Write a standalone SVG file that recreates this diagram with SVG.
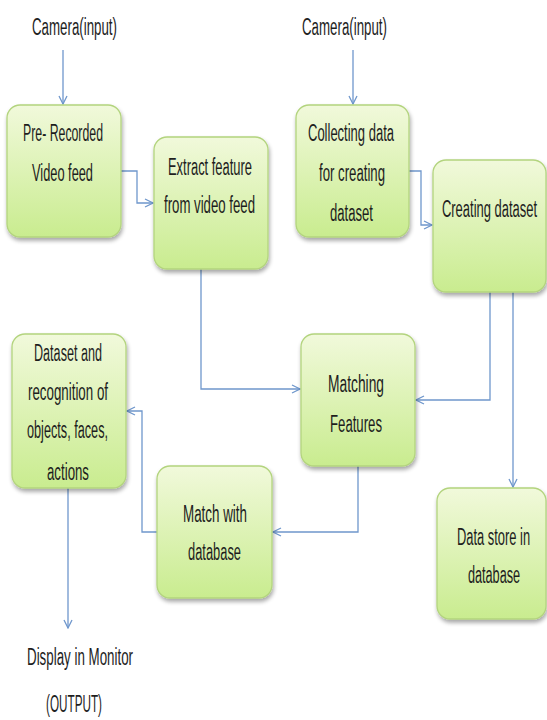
<svg xmlns="http://www.w3.org/2000/svg" width="547" height="720" viewBox="0 0 547 720">
<defs>
<linearGradient id="g" x1="0" y1="0" x2="0" y2="1">
<stop offset="0" stop-color="#f1f9db"/>
<stop offset="1" stop-color="#c9ec8f"/>
</linearGradient>
<filter id="sh" x="-10%" y="-10%" width="130%" height="130%">
<feGaussianBlur in="SourceAlpha" stdDeviation="2"/>
<feOffset dx="1" dy="3"/>
<feComponentTransfer><feFuncA type="linear" slope="0.35"/></feComponentTransfer>
<feMerge><feMergeNode/><feMergeNode in="SourceGraphic"/></feMerge>
</filter>
<marker id="ar" viewBox="0 0 10 10" refX="9" refY="5" markerWidth="10" markerHeight="10" markerUnits="userSpaceOnUse" orient="auto">
<path d="M1,1 L9,5 L1,9" fill="none" stroke="#6f97cc" stroke-width="1.3"/>
</marker>
</defs>
<style>
.box{fill:url(#g);stroke:#b3d47e;stroke-width:1.3;filter:url(#sh)}
.t{font-family:"Liberation Sans",Arial,sans-serif;font-size:23px;fill:#1e1e1e;text-anchor:middle}
.c{fill:none;stroke:#6f97cc;stroke-width:1.3}
</style>
<rect width="547" height="720" fill="#fff"/>
<g id="connectors">
<path class="c" d="M63,50 V104" marker-end="url(#ar)"/>
<path class="c" d="M353,50 V104" marker-end="url(#ar)"/>
<path class="c" d="M121,171 H137 V203 H153" marker-end="url(#ar)"/>
<path class="c" d="M409,171 H421 V225 H432" marker-end="url(#ar)"/>
<path class="c" d="M201,269 V389 H300" marker-end="url(#ar)"/>
<path class="c" d="M490,292 V400 H416" marker-end="url(#ar)"/>
<path class="c" d="M513,292 V487" marker-end="url(#ar)"/>
<path class="c" d="M358,466 V532 H273" marker-end="url(#ar)"/>
<path class="c" d="M157,532 H142 V411 H127" marker-end="url(#ar)"/>
<path class="c" d="M68,488 V628" marker-end="url(#ar)"/>
</g>
<g id="camera1"><text class="t" x="74.5" y="35" textLength="85" lengthAdjust="spacingAndGlyphs">Camera(input)</text></g>
<g id="camera2"><text class="t" x="344.5" y="35" textLength="85" lengthAdjust="spacingAndGlyphs">Camera(input)</text></g>
<g id="prerecorded">
<rect class="box" x="7" y="105" width="114" height="132" rx="13"/>
<text class="t" x="63" y="141" textLength="80" lengthAdjust="spacingAndGlyphs">Pre- Recorded</text>
<text class="t" x="62.5" y="181" textLength="61" lengthAdjust="spacingAndGlyphs">Video feed</text>
</g>
<g id="extract">
<rect class="box" x="154" y="137" width="114" height="132" rx="13"/>
<text class="t" x="210" y="175" textLength="84" lengthAdjust="spacingAndGlyphs">Extract feature</text>
<text class="t" x="209.5" y="213" textLength="91" lengthAdjust="spacingAndGlyphs">from video feed</text>
</g>
<g id="collecting">
<rect class="box" x="296" y="105" width="113" height="132" rx="13"/>
<text class="t" x="351" y="141" textLength="86" lengthAdjust="spacingAndGlyphs">Collecting data</text>
<text class="t" x="352" y="181" textLength="66" lengthAdjust="spacingAndGlyphs">for creating</text>
<text class="t" x="351.5" y="221" textLength="43" lengthAdjust="spacingAndGlyphs">dataset</text>
</g>
<g id="creating">
<rect class="box" x="433" y="160" width="113" height="132" rx="13"/>
<text class="t" transform="translate(489.5,217) scale(0.55,1)" x="0" y="0" textLength="173" lengthAdjust="spacingAndGlyphs">Creating dataset</text>
</g>
<g id="matching">
<rect class="box" x="301" y="334" width="114" height="132" rx="13"/>
<text class="t" x="356" y="392" textLength="56" lengthAdjust="spacingAndGlyphs">Matching</text>
<text class="t" x="356" y="432" textLength="52" lengthAdjust="spacingAndGlyphs">Features</text>
</g>
<g id="datastore">
<rect class="box" x="437" y="488" width="109" height="131" rx="13"/>
<text class="t" transform="translate(493.5,545) scale(0.55,1)" x="0" y="0" textLength="133" lengthAdjust="spacingAndGlyphs">Data store in</text>
<text class="t" transform="translate(494,583) scale(0.55,1)" x="0" y="0" textLength="95" lengthAdjust="spacingAndGlyphs">database</text>
</g>
<g id="recognition">
<rect class="box" x="12" y="334" width="114" height="154" rx="13"/>
<text class="t" x="68" y="361" textLength="68" lengthAdjust="spacingAndGlyphs">Dataset and</text>
<text class="t" x="68" y="400" textLength="80" lengthAdjust="spacingAndGlyphs">recognition of</text>
<text class="t" x="67.5" y="438" textLength="81" lengthAdjust="spacingAndGlyphs">objects, faces,</text>
<text class="t" x="68" y="480" textLength="42" lengthAdjust="spacingAndGlyphs">actions</text>
</g>
<g id="matchdb">
<rect class="box" x="157" y="466" width="115" height="132" rx="13"/>
<text class="t" x="215" y="522" textLength="64" lengthAdjust="spacingAndGlyphs">Match with</text>
<text class="t" x="214.5" y="560" textLength="53" lengthAdjust="spacingAndGlyphs">database</text>
</g>
<g id="display">
<text class="t" x="80" y="665" textLength="106" lengthAdjust="spacingAndGlyphs">Display in Monitor</text>
<text class="t" x="74" y="712" textLength="56" lengthAdjust="spacingAndGlyphs">(OUTPUT)</text>
</g>
</svg>
